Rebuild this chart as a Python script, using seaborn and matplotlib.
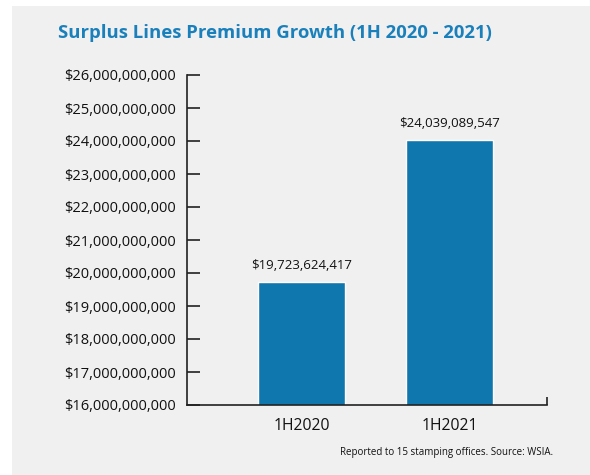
import matplotlib
matplotlib.use("Agg")
import matplotlib.pyplot as plt
import seaborn as sns
import pandas as pd
from matplotlib.patches import Rectangle
from matplotlib.ticker import FuncFormatter

categories = ["1H2020", "1H2021"]
values = [19723624417, 24039089547]
value_labels = ["$19,723,624,417", "$24,039,089,547"]
yticks = [16e9, 17e9, 18e9, 19e9, 20e9, 21e9, 22e9, 23e9, 24e9, 25e9, 26e9]
title = "Surplus Lines Premium Growth (1H 2020 - 2021)"
footnote = "Reported to 15 stamping offices. Source: WSIA."

sns.set_style("white")
plt.rcParams['font.family'] = ['Open Sans', 'DejaVu Sans']

BG = "#f0f0f0"
BAR = "#1076ae"
TITLE = "#1a80bb"

fig = plt.figure(figsize=(5.9, 4.75), dpi=100)
fig.patch.set_facecolor("white")
fig.patches.append(Rectangle((12/590, 0), 1 - 12/590, (475-6)/475,
                             transform=fig.transFigure, facecolor=BG,
                             edgecolor="none", zorder=-10))

ax = fig.add_axes([187/590, 1-405/475, 360/590, 330/475])
ax.set_facecolor("none")

df = pd.DataFrame({"cat": categories, "val": values})
sns.barplot(data=df, x="cat", y="val", color=BAR, saturation=1, width=0.588, ax=ax)

ax.set_ylim(16e9, 26e9)
ax.set_xlim(-0.774, 1.659)
ax.set_yticks(yticks)
ax.yaxis.set_major_formatter(FuncFormatter(lambda v, p: "${:,.0f}".format(v)))
ax.tick_params(axis="y", left=True, direction="in", length=9, width=1.2, color="#222222",
               labelsize=10.5, pad=8, labelcolor="#111111")
ax.set_xticks([0, 1])
ax.set_xticklabels(categories)
ax.tick_params(axis="x", which="major", bottom=False, length=0, labelsize=11.3, pad=9,
               labelcolor="#111111")
ax.set_xticks([1.659], minor=True)
ax.tick_params(axis="x", which="minor", bottom=True, direction="in", length=6, width=1.2,
               color="#222222")
ax.set_xlabel("")
ax.set_ylabel("")

for s in ["top", "right"]:
    ax.spines[s].set_visible(False)
for s in ["left", "bottom"]:
    ax.spines[s].set_color("#222222")
    ax.spines[s].set_linewidth(1.2)

for i, (v, lab) in enumerate(zip(values, value_labels)):
    ax.annotate(lab, xy=(i, v), xytext=(0, 7), textcoords="offset points",
                ha="center", va="bottom", fontsize=9.5, color="#111111")

fig.text(58/590, 1-33/475, title, ha="left", va="center", fontsize=13.3,
         fontweight="bold", color=TITLE)
fig.text(553/590, 1-452/475, footnote, ha="right", va="center", fontsize=7.0,
         color="#111111")

fig.savefig("out.png", dpi=100, facecolor=fig.get_facecolor())
